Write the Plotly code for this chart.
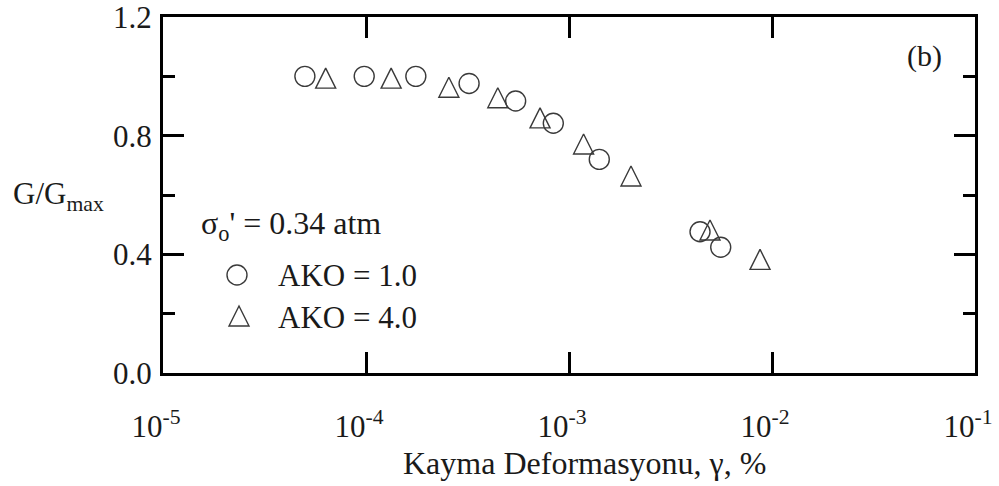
import plotly.graph_objects as go

# Shear modulus reduction, sigma_o' = 0.34 atm
strain_ako1 = [5.0e-5, 9.8e-5, 1.76e-4, 3.22e-4, 5.46e-4, 8.37e-4, 1.41e-3, 4.42e-3, 5.59e-3]
ratio_ako1 = [1.00, 1.00, 1.00, 0.976, 0.917, 0.842, 0.720, 0.476, 0.424]

strain_ako4 = [6.33e-5, 1.33e-4, 2.56e-4, 4.46e-4, 7.20e-4, 1.18e-3, 2.02e-3, 4.95e-3, 8.73e-3]
ratio_ako4 = [0.994, 0.994, 0.963, 0.928, 0.860, 0.772, 0.664, 0.482, 0.383]

x_tickvals = [1e-5, 1e-4, 1e-3, 1e-2, 1e-1]
x_ticktext = ["10<sup>-5</sup>", "10<sup>-4</sup>", "10<sup>-3</sup>", "10<sup>-2</sup>", "10<sup>-1</sup>"]
y_tickvals = [0.0, 0.4, 0.8, 1.2]
y_ticktext = ["0.0", "0.4", "0.8", "1.2"]

FONT = "Liberation Serif"
INK = "#1a1a1a"
MARK = "#3a3a3a"

W, H = 999, 486
ML, MR, MT, MB = 163, 24, 17, 113
PW, PH = W - ML - MR, H - MT - MB


def px(x):
    return (x - ML) / PW


def py(y):
    return (H - MB - y) / PH


fig = go.Figure()

fig.add_trace(go.Scatter(
    x=strain_ako1, y=ratio_ako1, mode="markers", name="AKO = 1.0",
    marker=dict(symbol="circle-open", size=20, color=MARK, line=dict(width=1.4)),
    showlegend=False,
))
fig.add_trace(go.Scatter(
    x=strain_ako4, y=ratio_ako4, mode="markers", name="AKO = 4.0",
    marker=dict(symbol="arrow-down-open", size=20, angle=180, standoff=10,
                color=MARK, line=dict(width=1.4)),
    showlegend=False,
))

axis_common = dict(
    showline=True, linecolor="black", linewidth=3, mirror="ticks",
    ticks="inside", ticklen=21, tickwidth=3, tickcolor="black",
    showgrid=False, zeroline=False, automargin=False,
    ticklabeloverflow="allow",
)

fig.update_xaxes(
    type="log", range=[-5, -1], tickvals=x_tickvals, ticktext=x_ticktext,
    tickfont=dict(family=FONT, size=31, color=INK), ticklabelstandoff=24,
    ticklabelshift=-7,
    **axis_common,
)
fig.update_yaxes(
    range=[0, 1.2], tickvals=y_tickvals, ticktext=y_ticktext,
    tickfont=dict(family=FONT, size=31, color=INK), ticklabelstandoff=2,
    minor=dict(tick0=0, dtick=0.2, ticks="inside", ticklen=12, tickwidth=3, tickcolor="black"),
    **axis_common,
)

annotations = [
    dict(text="Kayma Deformasyonu, γ, %", x=px(584), y=py(463), xanchor="center", yanchor="middle",
         font=dict(family=FONT, size=32, color=INK)),
    dict(text="G/G<sub>max</sub>", x=px(11), y=py(196), xanchor="left", yanchor="middle",
         font=dict(family=FONT, size=31, color=INK)),
    dict(text="(b)", x=px(924.5), y=py(56), xanchor="center", yanchor="middle",
         font=dict(family=FONT, size=30, color=INK)),
    dict(text="σ<sub>o</sub>' = 0.34 atm", x=px(199), y=py(226), xanchor="left", yanchor="middle",
         font=dict(family=FONT, size=32, color=INK)),
    dict(text="AKO = 1.0", x=px(276), y=py(275), xanchor="left", yanchor="middle",
         font=dict(family=FONT, size=31, color=INK)),
    dict(text="AKO = 4.0", x=px(276), y=py(317), xanchor="left", yanchor="middle",
         font=dict(family=FONT, size=31, color=INK)),
]
for a in annotations:
    a.update(xref="paper", yref="paper", showarrow=False)

# legend keys
shapes = [
    dict(type="circle", xref="paper", yref="paper", xsizemode="pixel", ysizemode="pixel",
         xanchor=px(237), yanchor=py(275), x0=-10, x1=10, y0=-10, y1=10,
         line=dict(color=MARK, width=1.4)),
    dict(type="path", xref="paper", yref="paper", xsizemode="pixel", ysizemode="pixel",
         xanchor=px(239), yanchor=py(316), path="M-10,-10 L10,-10 L0,10 Z",
         line=dict(color=MARK, width=1.4)),
]

fig.update_layout(
    width=W, height=H,
    margin=dict(l=ML, r=MR, t=MT, b=MB),
    plot_bgcolor="white", paper_bgcolor="white",
    annotations=annotations, shapes=shapes,
    showlegend=False,
)

fig.write_html("out.html")
